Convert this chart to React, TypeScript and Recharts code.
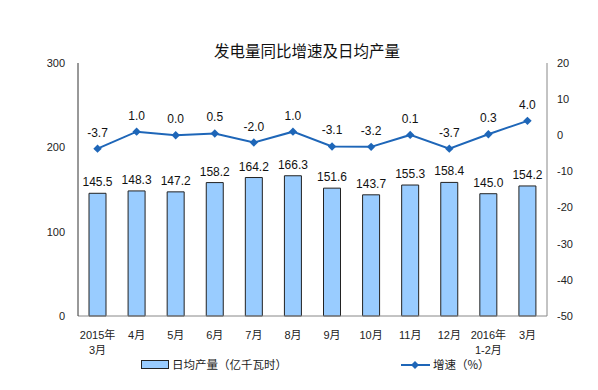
import React from 'react';
import {
  ComposedChart, Bar, Line, XAxis, YAxis, LabelList, Legend,
} from 'recharts';

const categories = ['2015年\n3月', '4月', '5月', '6月', '7月', '8月', '9月', '10月', '11月', '12月', '2016年\n1-2月', '3月'];
const dailyOutput = [145.5, 148.3, 147.2, 158.2, 164.2, 166.3, 151.6, 143.7, 155.3, 158.4, 145.0, 154.2];
const growth = [-3.7, 1.0, 0.0, 0.5, -2.0, 1.0, -3.1, -3.2, 0.1, -3.7, 0.3, 4.0];
const leftTicks = [0, 100, 200, 300];
const rightTicks = [-50, -40, -30, -20, -10, 0, 10, 20];
const edgeTicks = [0, 1, 2, 3, 4, 5, 6, 7, 8, 9, 10, 11, 12];

const data = categories.map((c, i) => ({ cat: c, idx: i + 0.5, out: dailyOutput[i], g: growth[i] }));

const LINE = '#1E66B8';
const NUM_FONT = '"Liberation Sans", Arial, "Noto Sans CJK SC", sans-serif';

const CatTick = (props: any) => {
  const { x, y, payload } = props;
  const lines = String(payload.value).split('\n');
  return (
    <text x={x} y={y} textAnchor="middle" fontSize={11} fill="#222" fontFamily={NUM_FONT}>
      {lines.map((l, i) => (
        <tspan key={i} x={x} dy={i === 0 ? 15 : 15}>{l}</tspan>
      ))}
    </text>
  );
};

const Diamond = (props: any) => {
  const { cx, cy } = props;
  if (cx == null || cy == null) return null;
  const r = 4.2;
  return <polygon points={`${cx},${cy - r} ${cx + r},${cy} ${cx},${cy + r} ${cx - r},${cy}`} fill={LINE} />;
};

const fmt = (v: any) => Number(v).toFixed(1);

const LegendContent = () => (
  <svg width={598} height={30} style={{ display: 'block' }}>
    <rect x={133.5} y={4.5} width={27} height={8} fill="#99CCFF" stroke="#222" strokeWidth={1} />
    <text x={164} y={13} fontSize={11.5} fill="#222" fontFamily='"Noto Sans CJK SC", sans-serif'>日均产量（亿千瓦时）</text>
    <line x1={393} x2={422} y1={9} y2={9} stroke={LINE} strokeWidth={2} />
    <polygon points="407,5 411,9 407,13 403,9" fill={LINE} />
    <text x={425} y={13} fontSize={11.5} fill="#222" fontFamily='"Noto Sans CJK SC", sans-serif'>增速（%）</text>
  </svg>
);

export default function App() {
  return (
    <div style={{ position: 'relative', width: 598, height: 390, background: '#fff' }}>
      <div style={{
        position: 'absolute', top: 32, left: 0, width: 598, textAlign: 'center',
        fontSize: 15.5, lineHeight: '20px', color: '#111', fontFamily: '"Noto Sans CJK SC", sans-serif', zIndex: 2,
      }}>发电量同比增速及日均产量</div>
      <ComposedChart width={598} height={390} data={data} margin={{ top: 55, right: 9, bottom: 12, left: 0 }} barCategoryGap={0}>
        <XAxis xAxisId="edge" type="number" dataKey="idx" domain={[0, 12]} ticks={edgeTicks} mirror tick={false}
          axisLine={false} tickLine={{ stroke: '#888' }} tickSize={4} height={0} />
        <XAxis dataKey="cat" tick={<CatTick />} interval={0} tickLine={false} axisLine={{ stroke: '#888' }} height={40} />
        <YAxis yAxisId="left" orientation="left" domain={[0, 300]} ticks={leftTicks} width={70}
          axisLine={{ stroke: '#333' }} tickLine={false} tickSize={0} tickMargin={13}
          tick={{ fontSize: 11, fill: '#222', fontFamily: NUM_FONT }} />
        <YAxis yAxisId="right" orientation="right" domain={[-50, 20]} ticks={rightTicks} width={50}
          axisLine={{ stroke: '#888' }} tickLine={false} tickSize={0} tickMargin={10}
          tick={{ fontSize: 11, fill: '#222', fontFamily: NUM_FONT, textAnchor: 'start' }} />
        <YAxis yAxisId="lt" orientation="left" domain={[0, 300]} ticks={leftTicks} mirror tick={false}
          axisLine={false} tickLine={{ stroke: '#333' }} tickSize={4} width={0} />
        <YAxis yAxisId="rt" orientation="right" domain={[-50, 20]} ticks={rightTicks} mirror tick={false}
          axisLine={false} tickLine={{ stroke: '#888' }} tickSize={4} width={0} />
        <Legend verticalAlign="bottom" height={30} content={<LegendContent />}
          wrapperStyle={{ position: 'absolute', left: 0, top: 348, width: 598, height: 30 }} />
        <Bar yAxisId="left" dataKey="out" barSize={17} fill="#99CCFF" stroke="#222" strokeWidth={1} isAnimationActive={false}>
          <LabelList dataKey="out" position="top" offset={7} formatter={fmt}
            style={{ fontSize: 12, fill: '#111', fontFamily: NUM_FONT }} />
        </Bar>
        <Line yAxisId="right" dataKey="g" stroke={LINE} strokeWidth={2} dot={<Diamond />} activeDot={false} isAnimationActive={false}>
          <LabelList dataKey="g" position="top" offset={12} formatter={fmt}
            style={{ fontSize: 12, fill: '#111', fontFamily: NUM_FONT }} />
        </Line>
      </ComposedChart>
    </div>
  );
}
